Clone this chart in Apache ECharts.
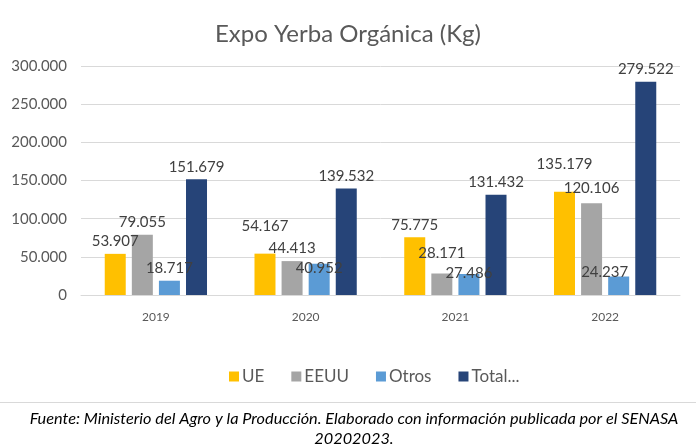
<!DOCTYPE html>
<html>
<head>
<meta charset="utf-8">
<script src="https://cdn.jsdelivr.net/npm/echarts@6/dist/echarts.min.js"></script>
<style>
html,body{margin:0;padding:0;background:#fff;}
#c{width:696px;height:447px;}
</style>
</head>
<body>
<div id="c"></div>
<script>
const categories = ['2019', '2020', '2021', '2022'];
const seriesNames = ['UE', 'EEUU', 'Otros', 'Total...'];
const ue = [53907, 54167, 75775, 135179];
const eeuu = [79055, 44413, 28171, 120106];
const otros = [18717, 40952, 27486, 24237];
const total = [151679, 139532, 131432, 279522];
const yTicks = [0, 50000, 100000, 150000, 200000, 250000, 300000];
const footnote = ['Fuente: Ministerio del Agro y la Producción. Elaborado con información publicada por el SENASA', '20202023.'];

const colors = ['#ffc000', '#a5a5a5', '#5b9bd5', '#264478'];
const fmt = v => Number(v).toLocaleString('de-DE');
const FONT = 'Lato';

// label nudges imitating the original's overlap avoidance (style only)
const labelNudge = {
  '0-1': [0, -15], '2-1': [0, 17],
  '1-2': [0, -8], '2-2': [0, 12],
  '0-3': [0, -15], '1-3': [0, -3], '2-3': [-14, 8]
};

const chart = echarts.init(document.getElementById('c'));
const values = [ue, eeuu, otros, total];

chart.setOption({
  backgroundColor: '#ffffff',
  animation: false,
  textStyle: { fontFamily: FONT },
  title: {
    text: 'Expo Yerba Orgánica (Kg)',
    left: 'center',
    top: 17,
    textStyle: { fontFamily: FONT, fontSize: 24, fontWeight: 'normal', color: '#595959' }
  },
  graphic: [
    { type: 'line', shape: { x1: 0, y1: 402.5, x2: 696, y2: 402.5 }, style: { stroke: '#d9d9d9', lineWidth: 1 } },
    { type: 'text', x: 354, y: 411, style: { text: footnote[0], font: 'italic 16.3px Lato', fill: '#000', textAlign: 'center' } },
    { type: 'text', x: 354, y: 431, style: { text: footnote[1], font: 'italic 16.3px Lato', fill: '#000', textAlign: 'center' } }
  ],
  color: colors,
  legend: {
    data: seriesNames,
    left: 224,
    top: 363,
    icon: 'rect',
    itemWidth: 10,
    itemHeight: 10,
    itemGap: 27,
    textStyle: { fontFamily: FONT, fontSize: 17, color: '#595959', padding: [0, 0, 0, -2] }
  },
  grid: { left: 81, right: 16, top: 66, bottom: 152 },
  xAxis: {
    type: 'category',
    data: categories,
    axisLine: { lineStyle: { color: '#d9d9d9' } },
    axisTick: { show: false },
    axisLabel: { fontFamily: FONT, fontSize: 12, color: '#595959', margin: 16 }
  },
  yAxis: {
    type: 'value',
    min: yTicks[0],
    max: yTicks[yTicks.length - 1],
    interval: yTicks[1] - yTicks[0],
    axisLine: { show: false },
    axisTick: { show: false },
    splitLine: { lineStyle: { color: '#d9d9d9' } },
    axisLabel: { fontFamily: FONT, fontSize: 15, color: '#595959', margin: 14, formatter: fmt }
  },
  series: seriesNames.map((name, i) => ({
    name: name,
    type: 'bar',
    data: values[i],
    barWidth: 21,
    barGap: '29%',
    itemStyle: { color: colors[i] },
    labelLayout: p => {
      const n = labelNudge[p.seriesIndex + '-' + p.dataIndex];
      return n ? { dx: n[0], dy: n[1] } : {};
    },
    label: {
      show: true,
      position: 'top',
      distance: 5,
      fontFamily: FONT,
      fontSize: 15,
      color: '#404040',
      formatter: p => fmt(p.value)
    }
  }))
});
</script>
</body>
</html>
